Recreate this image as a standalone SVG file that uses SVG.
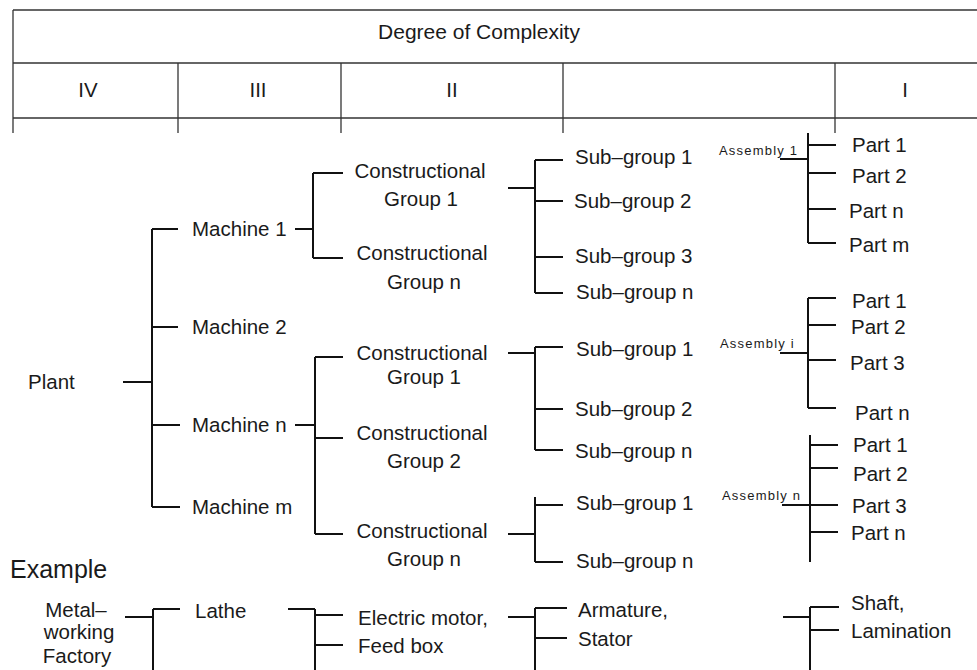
<svg xmlns="http://www.w3.org/2000/svg" width="977" height="670" viewBox="0 0 977 670">
<style>
text{font-family:"Liberation Sans",Arial,sans-serif;fill:#1a1a1a}
.t{font-size:20.5px}
.c{font-size:20.5px;text-anchor:middle}
.s{font-size:13px;letter-spacing:1.2px}
.h{font-size:25px}
.grid line{stroke:#333;stroke-width:1.3}
.conn path{fill:none;stroke:#111;stroke-width:2}
</style>
<rect width="977" height="670" fill="#fff"/>
<g id="table" class="grid">
<line x1="13" y1="10" x2="977" y2="10"/>
<line x1="13" y1="63" x2="977" y2="63"/>
<line x1="13" y1="118" x2="977" y2="118"/>
<line x1="13" y1="10" x2="13" y2="133"/>
<line x1="178" y1="63" x2="178" y2="133"/>
<line x1="341" y1="63" x2="341" y2="133"/>
<line x1="563" y1="63" x2="563" y2="133"/>
<line x1="835" y1="63" x2="835" y2="133"/>
<text class="c" x="479" y="39" style="font-size:21px">Degree of Complexity</text>
<text class="c" x="88" y="97">IV</text>
<text class="c" x="258" y="97">III</text>
<text class="c" x="452" y="97">II</text>
<text class="c" x="905" y="97">I</text>
</g>
<g id="connectors" class="conn">
<path d="M123 382H152M152 229V507M152 229H178M152 327H178M152 425H180M152 507H180"/>
<path d="M295 229H313M313 173V258M313 173H343M313 258H343"/>
<path d="M508 188H535M535 160V293M535 160H563M535 201H563M535 257H563M535 293H563"/>
<path d="M295 425H315M315 357V534M315 357H343M315 438H343M315 534H343"/>
<path d="M508 353H535M535 347V450M535 347H563M535 409H563M535 450H563"/>
<path d="M508 534H535M535 497V562M535 505H563M535 562H563"/>
<path d="M780 159H808M808 133V243M808 145H836M808 173H836M808 209H836M808 243H836"/>
<path d="M780 353H808M808 298V408M808 298H836M808 325H836M808 360H836M808 408H836"/>
<path d="M782 505H810M810 435V562M810 445H838M810 468H838M810 505H838M810 532H838"/>
<path d="M125 617H153M153 609V670M153 609H180"/>
<path d="M288 609H315M315 609V670M315 615H343M315 645H343"/>
<path d="M508 617H535M535 608V670M535 608H567M535 638H567"/>
<path d="M783 617H810M810 607V670M810 607H839M810 630H839"/>
</g>
<g id="plant"><text class="t" x="28" y="389">Plant</text></g>
<g id="machine1"><text class="t" x="192" y="236">Machine 1</text></g>
<g id="machine2"><text class="t" x="192" y="334">Machine 2</text></g>
<g id="machinen"><text class="t" x="192" y="432">Machine n</text></g>
<g id="machinem"><text class="t" x="192" y="514">Machine m</text></g>
<g id="cg1a"><text class="c" x="420" y="178">Constructional</text><text class="c" x="421" y="206">Group 1</text></g>
<g id="cgna"><text class="c" x="422" y="260">Constructional</text><text class="c" x="424" y="289">Group n</text></g>
<g id="cg1b"><text class="c" x="422" y="360">Constructional</text><text class="c" x="424" y="384">Group 1</text></g>
<g id="cg2b"><text class="c" x="422" y="440">Constructional</text><text class="c" x="424" y="468">Group 2</text></g>
<g id="cgnb"><text class="c" x="422" y="538">Constructional</text><text class="c" x="424" y="566">Group n</text></g>
<g id="sg1a"><text class="t" x="575" y="164">Sub–group 1</text></g>
<g id="sg2a"><text class="t" x="574" y="208">Sub–group 2</text></g>
<g id="sg3a"><text class="t" x="575" y="263">Sub–group 3</text></g>
<g id="sgna"><text class="t" x="576" y="299">Sub–group n</text></g>
<g id="sg1b"><text class="t" x="576" y="356">Sub–group 1</text></g>
<g id="sg2b"><text class="t" x="575" y="416">Sub–group 2</text></g>
<g id="sgnb"><text class="t" x="575" y="458">Sub–group n</text></g>
<g id="sg1c"><text class="t" x="576" y="510">Sub–group 1</text></g>
<g id="sgnc"><text class="t" x="576" y="568">Sub–group n</text></g>
<g id="asm1"><text class="s" x="719" y="155">Assembly 1</text></g>
<g id="asmi"><text class="s" x="720" y="348">Assembly i</text></g>
<g id="asmn"><text class="s" x="722" y="500">Assembly n</text></g>
<g id="p1a"><text class="t" x="852" y="152">Part 1</text></g>
<g id="p2a"><text class="t" x="852" y="183">Part 2</text></g>
<g id="pna"><text class="t" x="849" y="218">Part n</text></g>
<g id="pma"><text class="t" x="849" y="252">Part m</text></g>
<g id="p1b"><text class="t" x="852" y="308">Part 1</text></g>
<g id="p2b"><text class="t" x="851" y="334">Part 2</text></g>
<g id="p3b"><text class="t" x="850" y="370">Part 3</text></g>
<g id="pnb"><text class="t" x="855" y="420">Part n</text></g>
<g id="p1c"><text class="t" x="853" y="452">Part 1</text></g>
<g id="p2c"><text class="t" x="853" y="481">Part 2</text></g>
<g id="p3c"><text class="t" x="852" y="513">Part 3</text></g>
<g id="pnc"><text class="t" x="851" y="540">Part n</text></g>
<g id="example"><text class="h" x="10" y="578">Example</text></g>
<g id="factory"><text class="c" x="76" y="617">Metal–</text><text class="c" x="79" y="639">working</text><text class="c" x="77" y="663">Factory</text></g>
<g id="lathe"><text class="t" x="195" y="618">Lathe</text></g>
<g id="motor"><text class="t" x="358" y="625">Electric motor,</text><text class="t" x="358" y="653">Feed box</text></g>
<g id="armature"><text class="t" x="578" y="617">Armature,</text><text class="t" x="578" y="646">Stator</text></g>
<g id="shaft"><text class="t" x="851" y="610">Shaft,</text><text class="t" x="851" y="638">Lamination</text></g>
</svg>
